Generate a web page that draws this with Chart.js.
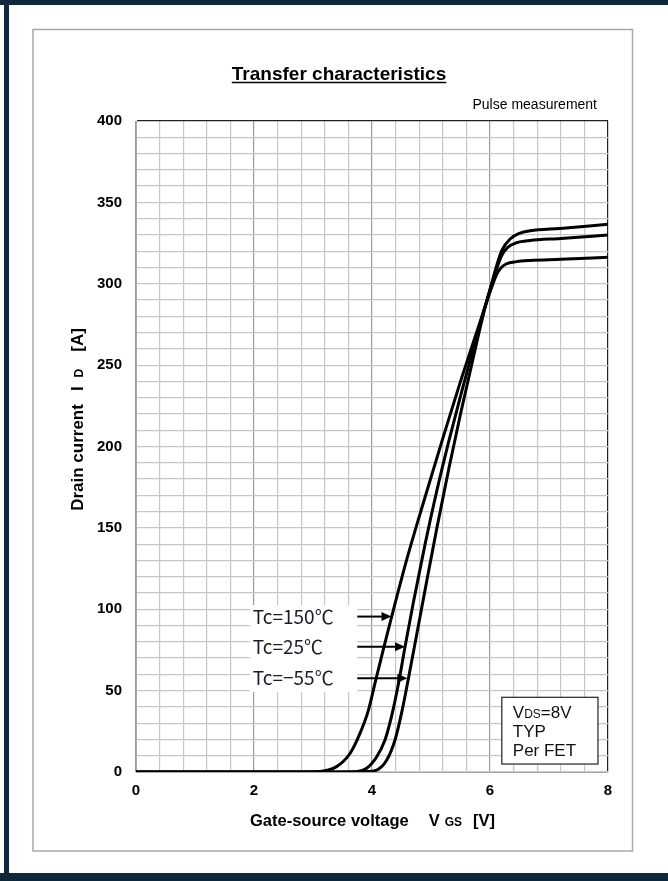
<!DOCTYPE html>
<html lang="ja">
<head>
<meta charset="UTF-8">
<title>Transfer characteristics</title>
<script src="https://cdn.jsdelivr.net/npm/chart.js"></script>
<style>
  html, body { margin: 0; padding: 0; background: #fff; }
</style>
</head>
<body>
<canvas id="transferChart" width="668" height="881"></canvas>
<script>
// Id - Vgs curves (VDS = 8V, per FET)
const vgs150 = [0, 2.8, 3.12, 3.4, 3.63, 3.8, 3.94, 4.05, 4.19, 4.33, 4.6, 4.9, 5.2, 5.5, 5.8, 6.05, 6.11, 6.18, 6.28, 6.45, 6.68, 7.2, 8.0];
const id150  = [0, 0, 0.3, 3.3, 11.5, 24, 38, 54.5, 75, 95, 132, 169, 205, 240, 273, 300, 305.5, 309.5, 312.3, 313.6, 314.3, 315, 316.3];

const vgs25 = [0, 3.5, 3.75, 3.91, 4.08, 4.22, 4.33, 4.45, 4.56, 4.7, 4.9, 5.1, 5.3, 5.5, 5.7, 5.9, 6.05, 6.12, 6.2, 6.3, 6.45, 6.68, 7.2, 8.0];
const id25  = [0, 0, 0.3, 2.3, 9.4, 19.7, 34, 54.5, 77, 104, 140, 173, 203, 231, 258, 284, 302, 310, 317.5, 322.3, 325.2, 326.6, 327.8, 330];

const vgsM55 = [0, 3.7, 3.9, 4.08, 4.25, 4.39, 4.5, 4.62, 4.75, 4.9, 5.1, 5.3, 5.5, 5.7, 5.9, 6.05, 6.12, 6.2, 6.34, 6.5, 6.68, 7.19, 8.0];
const idM55  = [0, 0, 0.2, 1.2, 7.4, 19.7, 36, 58, 83, 112, 150, 186, 220, 252, 283, 303, 312, 320.5, 327.5, 331, 332.5, 334, 336.5];

const seriesNames = ['Tc=150℃', 'Tc=25℃', 'Tc=−55℃'];
const xTickLabels = [0, 2, 4, 6, 8];
const yTickLabels = [0, 50, 100, 150, 200, 250, 300, 350, 400];

const toPoints = (xs, ys) => xs.map((x, i) => ({ x: x, y: ys[i] }));

// where the Tc labels and arrows sit (data units)
const tcArrowId = [95.5, 77, 57.6];
const tcArrowTip = [4.33, 4.56, 4.6];

const FONT = '"Liberation Sans", Arial, sans-serif';

function isMultiple(v, step) {
    return Math.abs(v / step - Math.round(v / step)) < 1e-6;
}

// draw a row of text pieces (for subscripts) left to right
function drawRun(c, parts, x, y) {
    let cx = x;
    parts.forEach(p => {
        cx += p.gap || 0;
        c.font = p.font;
        c.fillText(p.text, cx, y);
        cx += c.measureText(p.text).width;
    });
    return cx;
}
function runWidth(c, parts) {
    let w = 0;
    parts.forEach(p => {
        c.font = p.font;
        w += (p.gap || 0) + c.measureText(p.text).width;
    });
    return w;
}

const pageFrame = {
    id: 'pageFrame',
    beforeDraw(chart) {
        const c = chart.ctx;
        c.save();
        c.fillStyle = '#fff';
        c.fillRect(0, 0, chart.width, chart.height);
        c.fillStyle = '#10293a';
        c.fillRect(0, 0, chart.width, 5);
        c.fillRect(4, 0, 5, chart.height);
        c.fillRect(0, 873, chart.width, 8);
        c.strokeStyle = '#a9a9a9';
        c.lineWidth = 1.5;
        c.strokeRect(33, 29.5, 599.5, 821.5);
        c.restore();
    }
};

const extraText = {
    id: 'extraText',
    afterDatasetsDraw(chart) {
        const c = chart.ctx;
        const xs = chart.scales.x, ys = chart.scales.y;
        c.save();

        // Tc labels with white backing and arrows
        const bx0 = xs.getPixelForValue(1.93), bx1 = xs.getPixelForValue(3.75);
        const by0 = ys.getPixelForValue(102.6), by1 = ys.getPixelForValue(49.2);
        c.fillStyle = '#fff';
        c.fillRect(bx0, by0, bx1 - bx0, by1 - by0);
        c.font = '19px "Noto Sans CJK JP", "Noto Sans", sans-serif';
        c.textBaseline = 'middle';
        c.fillStyle = '#1c1c28';
        seriesNames.forEach((name, i) => {
            const y = ys.getPixelForValue(tcArrowId[i]);
            c.fillText(name, xs.getPixelForValue(1.98), y);
            const x0 = xs.getPixelForValue(3.75), x1 = xs.getPixelForValue(tcArrowTip[i]);
            c.strokeStyle = '#000';
            c.lineWidth = 2;
            c.beginPath();
            c.moveTo(x0, y);
            c.lineTo(x1 - 8, y);
            c.stroke();
            c.fillStyle = '#000';
            c.beginPath();
            c.moveTo(x1, y);
            c.lineTo(x1 - 10, y - 4.5);
            c.lineTo(x1 - 10, y + 4.5);
            c.closePath();
            c.fill();
            c.fillStyle = '#1c1c28';
        });

        // VDS / TYP / Per FET box
        const vx0 = xs.getPixelForValue(6.2), vx1 = xs.getPixelForValue(7.83);
        const vy0 = ys.getPixelForValue(45.9), vy1 = ys.getPixelForValue(4.9);
        c.fillStyle = '#fff';
        c.fillRect(vx0, vy0, vx1 - vx0, vy1 - vy0);
        c.strokeStyle = '#222';
        c.lineWidth = 1.2;
        c.strokeRect(vx0, vy0, vx1 - vx0, vy1 - vy0);
        c.fillStyle = '#111';
        c.textBaseline = 'alphabetic';
        const tx = vx0 + 11;
        drawRun(c, [
            { text: 'V', font: '17px ' + FONT },
            { text: 'DS', font: '12px ' + FONT },
            { text: '=8V', font: '17px ' + FONT }
        ], tx, vy0 + 21);
        c.font = '17px ' + FONT;
        c.fillText('TYP', tx, vy0 + 39.5);
        c.fillText('Per FET', tx, vy0 + 58.5);

        c.restore();
    },
    afterDraw(chart) {
        const c = chart.ctx;
        c.save();
        c.fillStyle = '#000';
        c.textBaseline = 'alphabetic';

        // title, underlined
        c.font = 'bold 19px ' + FONT;
        const title = 'Transfer characteristics';
        const tw = c.measureText(title).width;
        const tx = 339 - tw / 2;
        c.fillText(title, tx, 80);
        c.strokeStyle = '#000';
        c.lineWidth = 1.5;
        c.beginPath();
        c.moveTo(tx, 82.5);
        c.lineTo(tx + tw, 82.5);
        c.stroke();

        c.font = '14px ' + FONT;
        c.textAlign = 'right';
        c.fillText('Pulse measurement', 597, 109);
        c.textAlign = 'left';

        // x axis title
        const xParts = [
            { text: 'Gate-source voltage', font: 'bold 16.5px ' + FONT },
            { text: 'V', font: 'bold 16.5px ' + FONT, gap: 20 },
            { text: 'GS', font: 'bold 12px ' + FONT, gap: 5 },
            { text: '[V]', font: 'bold 16.5px ' + FONT, gap: 11 }
        ];
        drawRun(c, xParts, 372.5 - runWidth(c, xParts) / 2, 826);

        // y axis title, rotated
        const yParts = [
            { text: 'Drain current', font: 'bold 17px ' + FONT },
            { text: 'I', font: 'bold 17px ' + FONT, gap: 13 },
            { text: 'D', font: 'bold 12px ' + FONT, gap: 9 },
            { text: '[A]', font: 'bold 17px ' + FONT, gap: 17 }
        ];
        c.translate(83, 419.5);
        c.rotate(-Math.PI / 2);
        drawRun(c, yParts, -runWidth(c, yParts) / 2, 0);

        c.restore();
    }
};

const curveStyle = {
    borderColor: '#000',
    borderWidth: 3,
    pointRadius: 0,
    fill: false,
    cubicInterpolationMode: 'monotone'
};

const ctx = document.getElementById('transferChart').getContext('2d');
const chart = new Chart(ctx, {
    type: 'line',
    data: {
        datasets: [
            Object.assign({ label: seriesNames[0], data: toPoints(vgs150, id150) }, curveStyle),
            Object.assign({ label: seriesNames[1], data: toPoints(vgs25, id25) }, curveStyle),
            Object.assign({ label: seriesNames[2], data: toPoints(vgsM55, idM55) }, curveStyle)
        ]
    },
    options: {
        responsive: false,
        animation: false,
        layout: { padding: { left: 0, top: 121, right: 60, bottom: 0 } },
        plugins: {
            legend: { display: false },
            tooltip: { enabled: false },
            title: { display: false }
        },
        scales: {
            x: {
                type: 'linear',
                min: 0,
                max: 8,
                afterFit: s => { s.height = 109; },
                border: { color: '#a8a8a8', width: 1 },
                grid: {
                    drawTicks: false,
                    lineWidth: 1.2,
                    color: c => {
                        const v = c.tick.value;
                        if (Math.abs(v - 8) < 1e-6) return '#222';
                        return isMultiple(v, 2) ? '#9a9a9a' : '#c6c6c6';
                    }
                },
                ticks: {
                    stepSize: 0.4,
                    autoSkip: false,
                    maxRotation: 0,
                    padding: 10,
                    color: '#000',
                    font: { family: FONT, size: 15, weight: 'bold' },
                    callback: v => {
                        const r = Math.round(v);
                        return (isMultiple(v, 1) && xTickLabels.includes(r)) ? String(r) : '';
                    }
                }
            },
            y: {
                min: 0,
                max: 400,
                afterFit: s => { s.width = 136; },
                border: { color: '#a8a8a8', width: 1 },
                grid: {
                    drawTicks: false,
                    lineWidth: 1.2,
                    color: c => c.tick.value === 400 ? '#222' : '#c6c6c6'
                },
                ticks: {
                    stepSize: 10,
                    autoSkip: false,
                    padding: 14,
                    color: '#000',
                    font: { family: FONT, size: 15, weight: 'bold' },
                    callback: v => yTickLabels.includes(v) ? String(v) : ''
                }
            }
        }
    },
    plugins: [pageFrame, extraText]
});
</script>
</body>
</html>
